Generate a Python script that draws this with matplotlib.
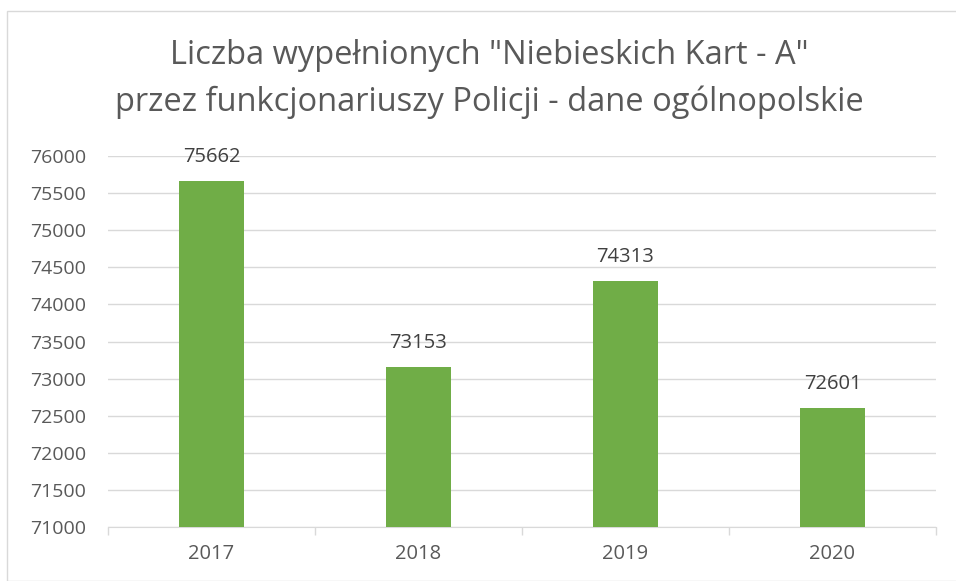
import matplotlib.pyplot as plt
from matplotlib.patches import Rectangle

years = ['2017', '2018', '2019', '2020']
values = [75662, 73153, 74313, 72601]
yticks = [71000, 71500, 72000, 72500, 73000, 73500, 74000, 74500, 75000, 75500, 76000]

plt.rcParams['font.family'] = ['Open Sans', 'DejaVu Sans']
grey = '#595959'
green = '#70AD47'

fig = plt.figure(figsize=(9.56, 5.81), dpi=100)
ax = fig.add_axes([108 / 956, 1 - 527 / 581, (936 - 108) / 956, (527 - 156) / 581])

x = range(len(years))
ax.bar(x, [v - 71000 for v in values], bottom=71000, width=0.315, color=green, zorder=3)
for i, v in zip(x, values):
    ax.text(i, v + 190, str(v), ha='center', va='bottom', fontsize=14.5, color='#404040', zorder=4)

ax.set_xlim(-0.5, 3.5)
ax.set_ylim(71000, 76000)
ax.set_yticks(yticks)
ax.set_yticklabels([str(t) for t in yticks])
ax.set_xticks(list(x))
ax.set_xticklabels(years)
ax.set_xticks([-0.5, 0.5, 1.5, 2.5, 3.5], minor=True)
ax.tick_params(axis='x', which='major', length=0, pad=12, labelsize=14.5, labelcolor=grey)
ax.tick_params(axis='x', which='minor', length=6, color='#d9d9d9', width=1)
ax.tick_params(axis='y', length=0, pad=16, labelsize=14, labelcolor=grey)
for lbl in ax.get_yticklabels():
    lbl.set_horizontalalignment('right')
ax.grid(axis='y', color='#d9d9d9', linewidth=1, zorder=0)
for s in ['top', 'right', 'left']:
    ax.spines[s].set_visible(False)
ax.spines['bottom'].set_color('#d9d9d9')

fig.text(0.512, 1 - 55 / 581, 'Liczba wypełnionych "Niebieskich Kart - A"',
         ha='center', va='center', fontsize=23.5, color=grey)
fig.text(0.512, 1 - 102 / 581, 'przez funkcjonariuszy Policji - dane ogólnopolskie',
         ha='center', va='center', fontsize=23.5, color=grey)

fig.patches.append(Rectangle((7 / 956, 0), 1, 1 - 11 / 581, transform=fig.transFigure,
                             fill=False, edgecolor='#d9d9d9', linewidth=1))

fig.savefig('out.png', dpi=100)
